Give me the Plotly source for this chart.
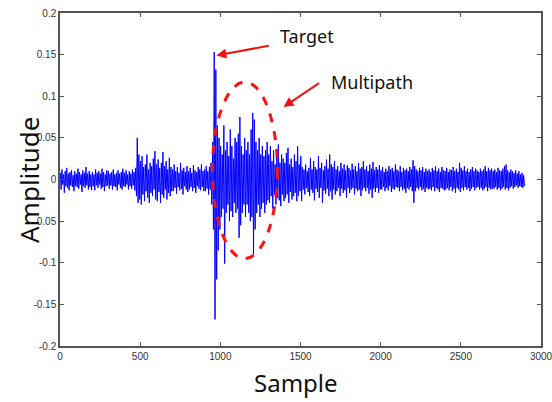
import plotly.graph_objects as go

# Envelope of the received signal in 10-sample bins
# (upper and lower excursion of each bin), samples 0..2899
bin_width = 10
upper = [
    0.008, 0.012, 0.006, 0.010, 0.014, 0.007, 0.009, 0.011, 0.005, 0.010,
    0.007, 0.013, 0.009, 0.006, 0.011, 0.008, 0.015, 0.007, 0.010, 0.006,
    0.009, 0.006, 0.012, 0.008, 0.010, 0.007, 0.013, 0.009, 0.006, 0.011,
    0.010, 0.007, 0.009, 0.012, 0.006, 0.008, 0.011, 0.007, 0.009, 0.013,
    0.008, 0.011, 0.006, 0.010, 0.007, 0.012, 0.009, 0.014, 0.050, 0.030,
    0.022, 0.028, 0.015, 0.018, 0.030, 0.012, 0.020, 0.016, 0.025, 0.034,
    0.018, 0.024, 0.014, 0.020, 0.033, 0.016, 0.022, 0.012, 0.026, 0.015,
    0.012, 0.018, 0.010, 0.015, 0.008, 0.020, 0.011, 0.014, 0.009, 0.016,
    0.010, 0.014, 0.008, 0.017, 0.011, 0.009, 0.015, 0.012, 0.018, 0.010,
    0.012, 0.016, 0.010, 0.015, 0.020, 0.045, 0.153, 0.132, 0.065, 0.050,
    0.040, 0.030, 0.065, 0.035, 0.045, 0.028, 0.060, 0.040, 0.025, 0.050,
    0.045, 0.055, 0.075, 0.040, 0.030, 0.050, 0.035, 0.045, 0.030, 0.060,
    0.080, 0.072, 0.045, 0.035, 0.050, 0.030, 0.040, 0.028, 0.035, 0.045,
    0.030, 0.040, 0.022, 0.035, 0.018, 0.028, 0.042, 0.020, 0.030, 0.025,
    0.020, 0.032, 0.038, 0.018, 0.025, 0.015, 0.030, 0.022, 0.040, 0.018,
    0.028, 0.015, 0.012, 0.018, 0.010, 0.014, 0.026, 0.012, 0.022, 0.015,
    0.012, 0.028, 0.014, 0.020, 0.011, 0.016, 0.024, 0.013, 0.030, 0.018,
    0.015, 0.022, 0.012, 0.016, 0.010, 0.020, 0.013, 0.018, 0.011, 0.017,
    0.014, 0.011, 0.019, 0.012, 0.016, 0.010, 0.020, 0.013, 0.015, 0.022,
    0.012, 0.016, 0.010, 0.018, 0.013, 0.021, 0.011, 0.015, 0.012, 0.017,
    0.011, 0.015, 0.009, 0.013, 0.010, 0.016, 0.012, 0.014, 0.010, 0.018,
    0.012, 0.010, 0.016, 0.009, 0.014, 0.011, 0.013, 0.010, 0.015, 0.012,
    0.023, 0.016, 0.012, 0.010, 0.014, 0.011, 0.015, 0.009, 0.013, 0.010,
    0.012, 0.009, 0.014, 0.011, 0.016, 0.010, 0.013, 0.009, 0.015, 0.011,
    0.010, 0.014, 0.009, 0.012, 0.011, 0.015, 0.010, 0.013, 0.009, 0.020,
    0.014, 0.011, 0.016, 0.010, 0.013, 0.009, 0.012, 0.015, 0.010, 0.013,
    0.011, 0.009, 0.013, 0.010, 0.012, 0.016, 0.010, 0.014, 0.011, 0.013,
    0.010, 0.012, 0.009, 0.014, 0.011, 0.010, 0.013, 0.016, 0.018, 0.011,
    0.009, 0.012, 0.010, 0.008, 0.011, 0.007, 0.010, 0.006, 0.008, 0.005,
]
lower = [
    -0.012, -0.006, -0.016, -0.008, -0.010, -0.013, -0.007, -0.009, -0.014, -0.008,
    -0.009, -0.011, -0.006, -0.015, -0.008, -0.010, -0.007, -0.012, -0.009, -0.013,
    -0.008, -0.013, -0.007, -0.010, -0.006, -0.011, -0.009, -0.014, -0.008, -0.007,
    -0.011, -0.007, -0.012, -0.008, -0.009, -0.013, -0.006, -0.010, -0.012, -0.008,
    -0.009, -0.006, -0.012, -0.008, -0.011, -0.007, -0.013, -0.020, -0.028, -0.024,
    -0.030, -0.018, -0.026, -0.014, -0.022, -0.028, -0.016, -0.020, -0.012, -0.024,
    -0.026, -0.015, -0.028, -0.018, -0.022, -0.012, -0.024, -0.016, -0.020, -0.014,
    -0.014, -0.010, -0.017, -0.009, -0.013, -0.011, -0.018, -0.008, -0.012, -0.015,
    -0.012, -0.009, -0.014, -0.010, -0.016, -0.008, -0.011, -0.013, -0.009, -0.014,
    -0.014, -0.011, -0.018, -0.012, -0.030, -0.060, -0.168, -0.120, -0.085, -0.060,
    -0.045, -0.035, -0.101, -0.040, -0.030, -0.050, -0.038, -0.045, -0.028, -0.040,
    -0.035, -0.070, -0.055, -0.040, -0.030, -0.045, -0.030, -0.040, -0.050, -0.045,
    -0.090, -0.060, -0.040, -0.030, -0.045, -0.035, -0.028, -0.040, -0.030, -0.025,
    -0.028, -0.020, -0.035, -0.018, -0.030, -0.022, -0.025, -0.032, -0.018, -0.026,
    -0.022, -0.018, -0.028, -0.015, -0.024, -0.020, -0.016, -0.026, -0.020, -0.014,
    -0.026, -0.012, -0.018, -0.010, -0.015, -0.020, -0.012, -0.016, -0.025, -0.011,
    -0.015, -0.022, -0.010, -0.028, -0.013, -0.017, -0.011, -0.020, -0.014, -0.024,
    -0.012, -0.018, -0.014, -0.010, -0.020, -0.011, -0.016, -0.013, -0.022, -0.010,
    -0.016, -0.012, -0.010, -0.018, -0.011, -0.014, -0.012, -0.020, -0.013, -0.010,
    -0.014, -0.010, -0.017, -0.012, -0.022, -0.011, -0.015, -0.010, -0.016, -0.012,
    -0.012, -0.009, -0.014, -0.010, -0.013, -0.008, -0.015, -0.011, -0.012, -0.009,
    -0.010, -0.014, -0.009, -0.013, -0.011, -0.016, -0.010, -0.012, -0.009, -0.014,
    -0.028, -0.014, -0.010, -0.012, -0.009, -0.013, -0.011, -0.015, -0.010, -0.012,
    -0.011, -0.013, -0.009, -0.014, -0.010, -0.012, -0.015, -0.010, -0.011, -0.013,
    -0.012, -0.010, -0.013, -0.009, -0.014, -0.011, -0.016, -0.010, -0.012, -0.015,
    -0.010, -0.013, -0.009, -0.012, -0.010, -0.014, -0.011, -0.009, -0.013, -0.010,
    -0.009, -0.012, -0.010, -0.013, -0.011, -0.009, -0.014, -0.010, -0.012, -0.011,
    -0.011, -0.009, -0.012, -0.010, -0.013, -0.011, -0.009, -0.012, -0.010, -0.013,
    -0.010, -0.008, -0.011, -0.009, -0.007, -0.010, -0.008, -0.009, -0.010, -0.008,
]

x_ticks = [0, 500, 1000, 1500, 2000, 2500, 3000]
y_ticks = [-0.2, -0.15, -0.1, -0.05, 0, 0.05, 0.1, 0.15, 0.2]
y_tick_text = ["-0.2", "-0.15", "-0.1", "-0.05", "0", "0.05", "0.1", "0.15", "0.2"]

# Annotation anchors (data coordinates)
target_point = (975, 0.149)
multipath_point = (1394, 0.087)
ellipse_box = (950, -0.095, 1356, 0.117)

# interleave upper/lower excursions within each bin
xs, ys = [], []
for i, (u, l) in enumerate(zip(upper, lower)):
    start = i * bin_width
    xs += [start + 2, start + 7]
    ys += [u, l]

ML, MR, MT, MB = 60, 11, 13, 56
W, H = 552, 402
pw, ph = W - ML - MR, H - MT - MB

def px_to_paper(px, py):
    return (px - ML) / pw, 1 - (py - MT) / ph

fig = go.Figure()
fig.add_trace(go.Scatter(x=xs, y=ys, mode="lines",
                         line=dict(color="#0000FF", width=1), showlegend=False))

fig.add_shape(type="circle", xref="x", yref="y",
              x0=ellipse_box[0], y0=ellipse_box[1], x1=ellipse_box[2], y1=ellipse_box[3],
              line=dict(color="#FF1010", width=3, dash="dash"))

arrow_style = dict(showarrow=True, arrowhead=2, arrowsize=1, arrowwidth=2,
                   arrowcolor="#EE1111", text="", xref="x", yref="y", axref="pixel", ayref="pixel")
fig.add_annotation(x=target_point[0], y=target_point[1], ax=54, ay=-10, **arrow_style)
fig.add_annotation(x=multipath_point[0], y=multipath_point[1], ax=37, ay=-25, **arrow_style)

text_font = dict(family="Noto Sans", size=18, color="#111111")
for label, (px, py) in [("Target", (278, 36)), ("Multipath", (329, 82))]:
    fx, fy = px_to_paper(px, py)
    fig.add_annotation(x=fx, y=fy, xref="paper", yref="paper", text=label,
                       showarrow=False, font=text_font, xanchor="left", yanchor="middle")

# axis titles
fx, fy = px_to_paper(296, 382)
fig.add_annotation(x=fx, y=fy, xref="paper", yref="paper", text="Sample", showarrow=False,
                   font=dict(family="Noto Sans", size=24, color="#111111"),
                   xanchor="center", yanchor="middle")
fx, fy = px_to_paper(29, 180)
fig.add_annotation(x=fx, y=fy, xref="paper", yref="paper", text="Amplitude", showarrow=False,
                   font=dict(family="Noto Sans", size=26, color="#111111"), textangle=-90,
                   xanchor="center", yanchor="middle")

axis_common = dict(showline=True, linecolor="#555555", linewidth=1.5, mirror="ticks",
                   ticks="inside", ticklen=4, tickcolor="#555555", showgrid=False,
                   zeroline=False, automargin=False, ticklabeloverflow="allow",
                   tickfont=dict(family="Liberation Sans", size=10, color="#333333"))

fig.update_layout(
    width=W, height=H,
    margin=dict(l=ML, r=MR, t=MT, b=MB),
    paper_bgcolor="white", plot_bgcolor="white",
    xaxis=dict(range=[0, 3000], tickvals=x_ticks, **axis_common),
    yaxis=dict(range=[-0.2, 0.2], tickvals=y_ticks, ticktext=y_tick_text, **axis_common),
)

fig.write_html("out.html", config={"displayModeBar": False},
               post_script="document.body.style.margin='0';document.body.style.padding='0';")
